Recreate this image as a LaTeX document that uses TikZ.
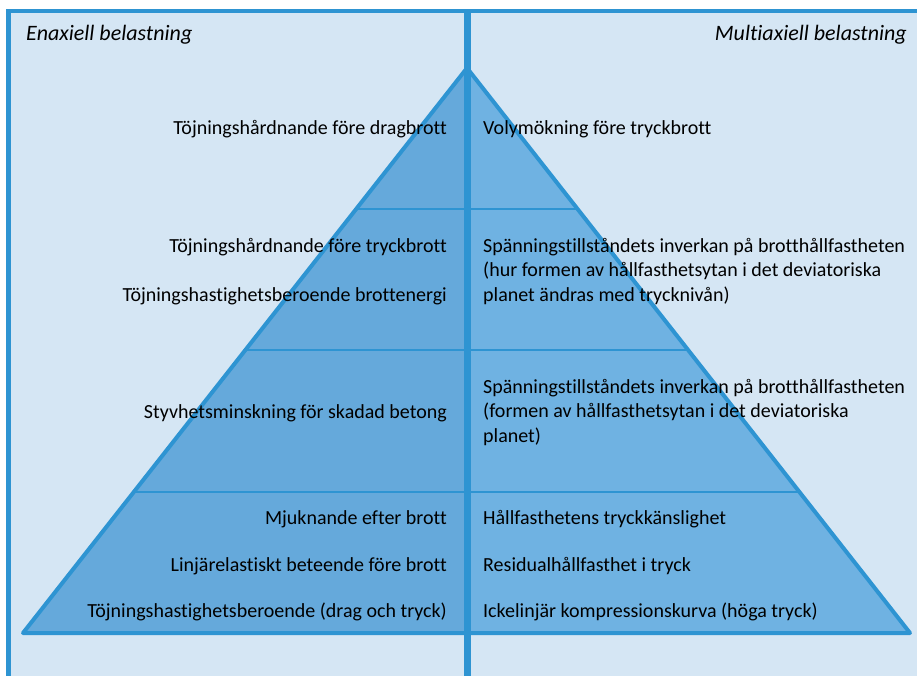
\documentclass[tikz,border=0pt]{standalone}
\usepackage{fontspec}
\setmainfont{Carlito}[Ligatures=NoCommon]
\usetikzlibrary{calc}
\definecolor{bgblue}{RGB}{213,230,244}
\definecolor{lineblue}{RGB}{46,148,210}
\definecolor{leftfill}{RGB}{101,169,219}
\definecolor{rightfill}{RGB}{111,178,226}
\tikzset{
  lefttxt/.style={anchor=base east, inner sep=0pt, font=\fontsize{20}{24}\selectfont, text=black},
  righttxt/.style={anchor=base west, inner sep=0pt, font=\fontsize{20}{24}\selectfont, text=black},
  headtxt/.style={inner sep=0pt, font=\fontsize{22}{26}\selectfont\itshape, text=black},
  divider/.style={draw=lineblue, line width=2pt},
  edge/.style={draw=lineblue, line width=4pt, line join=round, line cap=round},
}
\begin{document}
\begin{tikzpicture}[x=1pt,y=-1pt]
\useasboundingbox (0,0) rectangle (917,676);
% background panel
\fill[white] (0,0) rectangle (917,676);
\fill[bgblue] (8.5,11) rectangle (920,680);
\draw[lineblue, line width=4.5pt] (8.5,680) -- (8.5,11) -- (920,11);

% pyramid
\coordinate (apex) at (467,68);
\coordinate (bl) at (23,633);
\coordinate (br) at (910,633);
\coordinate (bm) at (467,633);
\fill[leftfill] (apex) -- (bl) -- (bm) -- cycle;
\fill[rightfill] (apex) -- (br) -- (bm) -- cycle;
\foreach \t/\n in {0.2496/a,0.4991/b,0.7504/c}{
  \coordinate (l\n) at ($(apex)!\t!(bl)$);
  \coordinate (r\n) at ($(apex)!\t!(br)$);
  \draw[divider] (l\n) -- (r\n);
}
\draw[edge] (apex) -- (bl) -- (br) -- cycle;

% centre line
\coordinate (ctop) at (467,11);
\coordinate (cbot) at (467,680);
\draw[lineblue, line width=7pt] (ctop) -- (cbot);

% headers
\node[headtxt, anchor=base west] (hl) at (26,41) {Enaxiell belastning};
\node[headtxt, anchor=base east] (hr) at (907,41) {Multiaxiell belastning};

% tier 1
\node[lefttxt] (l1) at (447,135) {Töjningshårdnande före dragbrott};
\node[righttxt] (r1) at (483,135) {Volymökning före tryckbrott};

% tier 2
\node[lefttxt] (l2a) at (447,252.5) {Töjningshårdnande före tryckbrott};
\node[lefttxt] (l2b) at (447,301) {Töjningshastighetsberoende brottenergi};
\node[righttxt] (r2a) at (483,252.5) {Spänningstillståndets inverkan på brotthållfastheten};
\node[righttxt] (r2b) at (483,276.7) {(hur formen av hållfasthetsytan i det deviatoriska};
\node[righttxt] (r2c) at (483,301) {planet ändras med trycknivån)};

% tier 3
\node[lefttxt] (l3) at (447,418) {Styvhetsminskning för skadad betong};
\node[righttxt] (r3a) at (483,393.5) {Spänningstillståndets inverkan på brotthållfastheten};
\node[righttxt] (r3b) at (483,417.8) {(formen av hållfasthetsytan i det deviatoriska};
\node[righttxt] (r3c) at (483,442) {planet)};

% tier 4
\node[lefttxt] (l4a) at (447,524.5) {Mjuknande efter brott};
\node[lefttxt] (l4b) at (447,571) {Linjärelastiskt beteende före brott};
\node[lefttxt] (l4c) at (447,617.5) {Töjningshastighetsberoende (drag och tryck)};
\node[righttxt] (r4a) at (483,524.5) {Hållfasthetens tryckkänslighet};
\node[righttxt] (r4b) at (483,571) {Residualhållfasthet i tryck};
\node[righttxt] (r4c) at (483,617.5) {Ickelinjär kompressionskurva (höga tryck)};
\end{tikzpicture}
\end{document}
